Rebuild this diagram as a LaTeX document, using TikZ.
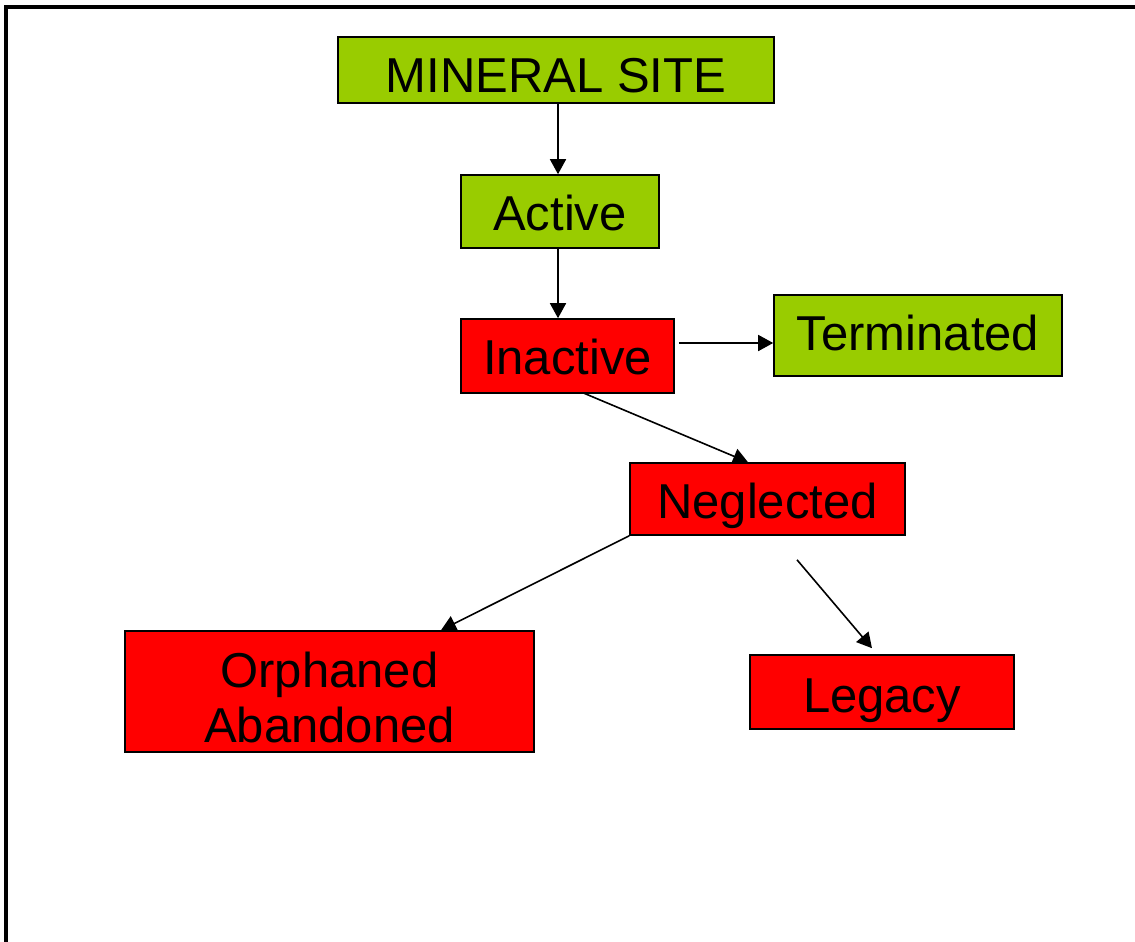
\documentclass[tikz,border=0pt]{standalone}
\usepackage{fontspec}
\setmainfont{Liberation Sans}
\usetikzlibrary{calc,arrows.meta}
\definecolor{boxgreen}{HTML}{99CC00}
\definecolor{boxred}{HTML}{FF0000}
\begin{document}
\begin{tikzpicture}[x=1pt,y=-1pt,
  box/.style={draw=black,line width=1.6pt,rectangle,inner sep=0pt},
  gbox/.style={box,fill=boxgreen},
  rbox/.style={box,fill=boxred},
  txt/.style={font=\fontsize{49}{55}\selectfont,inner sep=0pt,text height=35pt,text depth=0pt},
  conn/.style={line width=1.6pt,-{Triangle[length=15pt,width=16pt]}}]
\useasboundingbox (0,0) rectangle (1135,942);
\fill[white] (0,0) rectangle (1135,942);
\draw[line width=4pt] (6,945) -- (6,7) -- (1140,7);
\node[gbox,minimum width=436pt,minimum height=66pt,
  label={[txt,yshift=-5pt]center:MINERAL SITE}] (ms) at (556,70) {};
\node[gbox,minimum width=198pt,minimum height=73pt,
  label={[txt,yshift=-1.5pt]center:Active}] (act) at (560,211.5) {};
\node[rbox,minimum width=213pt,minimum height=74pt,
  label={[txt,yshift=-1pt]center:Inactive}] (inact) at (567.5,356) {};
\node[gbox,minimum width=288pt,minimum height=81pt,
  label={[txt,yshift=2.5pt]center:Terminated}] (term) at (918,335.5) {};
\node[rbox,minimum width=275pt,minimum height=72pt,
  label={[txt,yshift=-1.5pt]center:Neglected}] (negl) at (767.5,499) {};
\node[rbox,minimum width=409pt,minimum height=121pt,
  label={[txt,yshift=21.5pt]center:Orphaned},
  label={[txt,yshift=-33.5pt]center:Abandoned}] (orph) at (329.5,691.5) {};
\node[rbox,minimum width=264pt,minimum height=74pt,
  label={[txt,yshift=-3pt]center:Legacy}] (leg) at (882,692) {};
\coordinate (itstart) at ($(inact.east)+(4,-13)$);
\coordinate (lgstart) at ($(negl.south)+(29.5,24)$);
\draw[conn] ($(ms.south)+(2,0)$) -- ($(act.north)+(-2,0)$);
\draw[conn] ($(act.south)+(-2,0)$) -- ($(inact.north)+(-9.5,0)$);
\draw[conn] (itstart) -- (itstart -| term.west);
\draw[conn] ($(inact.south)+(15.5,-1)$) -- ($(negl.north)+(-19.5,0)$);
\draw[conn] (negl.south west) -- ($(orph.north)+(111.5,0)$);
\draw[conn] (lgstart) -- ($(leg.north)+(-10,-6)$);
\end{tikzpicture}
\end{document}
